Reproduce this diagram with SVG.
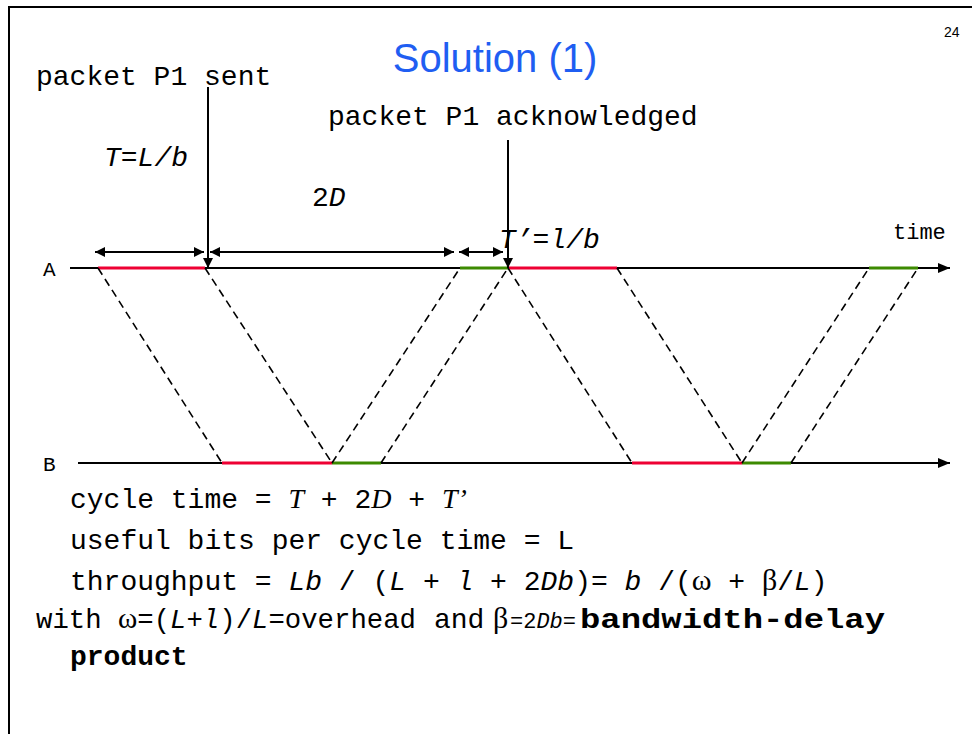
<svg xmlns="http://www.w3.org/2000/svg" width="972" height="734" viewBox="0 0 972 734">
<defs>
<style>
text{white-space:pre}
.mono{font-family:"Liberation Mono","Courier New",monospace;font-size:28px;fill:#000}
.ser{font-family:"Liberation Serif","Times New Roman",serif;font-size:28px;fill:#000}
.it{font-style:italic}
.bd{font-weight:bold}
.gr{font-family:"Liberation Serif","Times New Roman",serif;font-size:30px;font-style:normal}
.axis{stroke:#000;stroke-width:2;fill:none}
.red{stroke:#ee0033;stroke-width:3}
.grn{stroke:#3c8a00;stroke-width:3}
.dash{stroke:#000;stroke-width:1.6;stroke-dasharray:8 5;fill:none}
.dim{stroke:#000;stroke-width:2;fill:none}
</style>
<marker id="ah" viewBox="0 0 10 10" refX="10" refY="5" markerWidth="10" markerHeight="10" markerUnits="userSpaceOnUse" orient="auto-start-reverse">
<path d="M0,0 L10,5 L0,10 z" fill="#000"/>
</marker>
<marker id="ax" viewBox="0 0 12 10" refX="12" refY="5" markerWidth="12" markerHeight="10" markerUnits="userSpaceOnUse" orient="auto">
<path d="M0,0 L12,5 L0,10 z" fill="#000"/>
</marker>
</defs>
<rect width="972" height="734" fill="#fff"/>
<polyline points="9,734 9,7 972,7" fill="none" stroke="#000" stroke-width="2"/>

<text id="title" x="495" y="72" text-anchor="middle" font-family="Liberation Sans, Arial, sans-serif" font-size="40" fill="#1f5ef2">Solution (1)</text>
<text id="page" x="944" y="37" font-family="Liberation Sans, Arial, sans-serif" font-size="14" fill="#000">24</text>

<g id="axes">
<line class="axis" x1="70" y1="268" x2="950" y2="268" marker-end="url(#ax)"/>
<line class="axis" x1="78" y1="463" x2="950" y2="463" marker-end="url(#ax)"/>
<text class="mono" x="43" y="276" style="font-size:21px">A</text>
<text class="mono" x="43" y="471" style="font-size:21px">B</text>
<text class="mono" x="893" y="239" style="font-size:22px">time</text>
</g>

<g id="segments">
<line class="red" x1="98" y1="268" x2="205" y2="268"/>
<line class="grn" x1="460" y1="268" x2="508" y2="268"/>
<line class="red" x1="508" y1="268" x2="617" y2="268"/>
<line class="grn" x1="869" y1="268" x2="918" y2="268"/>
<line class="red" x1="222" y1="463" x2="332" y2="463"/>
<line class="grn" x1="332" y1="463" x2="381" y2="463"/>
<line class="red" x1="632" y1="463" x2="742" y2="463"/>
<line class="grn" x1="742" y1="463" x2="791" y2="463"/>
</g>

<g id="connectors">
<line class="dash" x1="98" y1="268" x2="222" y2="463"/>
<line class="dash" x1="205" y1="268" x2="332" y2="463"/>
<line class="dash" x1="332" y1="463" x2="460" y2="268"/>
<line class="dash" x1="381" y1="463" x2="508" y2="268"/>
<line class="dash" x1="508" y1="268" x2="632" y2="463"/>
<line class="dash" x1="617" y1="268" x2="742" y2="463"/>
<line class="dash" x1="742" y1="463" x2="869" y2="268"/>
<line class="dash" x1="791" y1="463" x2="918" y2="268"/>
<line class="dim" x1="95" y1="252" x2="204" y2="252" marker-start="url(#ah)" marker-end="url(#ah)"/>
<line class="dim" x1="210" y1="252" x2="454" y2="252" marker-start="url(#ah)" marker-end="url(#ah)"/>
<line class="dim" x1="459" y1="252" x2="503" y2="252" marker-start="url(#ah)" marker-end="url(#ah)"/>
<line class="dim" x1="208" y1="87" x2="208" y2="268" marker-end="url(#ah)"/>
<line class="dim" x1="508" y1="140" x2="508" y2="268" marker-end="url(#ah)"/>
</g>

<g id="labels">
<text class="mono" x="36" y="85">packet P1 sent</text>
<text class="mono" x="328" y="125">packet P1 acknowledged</text>
<text class="mono it" x="104" y="166">T=L/b</text>
<text class="mono" x="312" y="206">2<tspan class="it">D</tspan></text>
<text class="mono it" x="499" y="248">T’=l/b</text>
</g>

<g id="formulas">
<text class="mono" x="70" y="508">cycle time = <tspan class="ser it">T</tspan> + 2<tspan class="ser it">D</tspan> + <tspan class="ser it">T’</tspan></text>
<text class="mono" x="70" y="549">useful bits per cycle time = L</text>
<text class="mono" x="70" y="590">throughput = <tspan class="it">Lb</tspan> / (<tspan class="it">L</tspan> + <tspan class="it">l</tspan> + 2<tspan class="it">Db</tspan>)= <tspan class="it">b</tspan> /(<tspan class="gr">ω</tspan> + <tspan class="gr">β</tspan>/<tspan class="it">L</tspan>)</text>
<text class="mono" x="36" y="628" textLength="380" lengthAdjust="spacingAndGlyphs">with <tspan class="gr">ω</tspan>=(<tspan class="it">L+l</tspan>)/<tspan class="it">L</tspan>=overhead</text>
<text class="mono" x="434" y="628">and</text>
<text class="gr" x="493" y="628">β</text>
<text class="mono" x="510" y="628" style="font-size:22px">=2<tspan class="it">Db</tspan>=</text>
<text class="mono bd" x="580" y="628" textLength="305" lengthAdjust="spacingAndGlyphs">bandwidth-delay</text>
<text class="mono bd" x="70" y="665">product</text>
</g>
</svg>
